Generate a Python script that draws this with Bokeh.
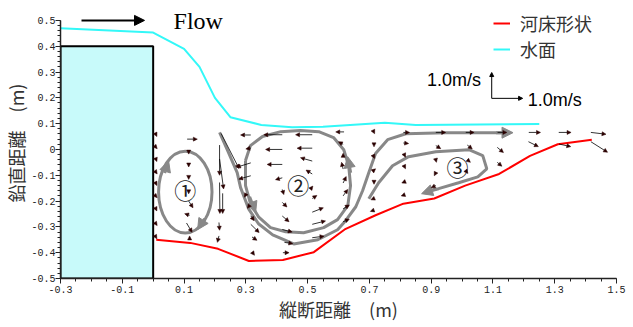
from bokeh.plotting import figure
from bokeh.models import (Range1d, FixedTicker, Arrow, NormalHead, ColumnDataSource, Label, Title)
from bokeh.core.properties import value
from bokeh.embed import file_html
from bokeh.resources import INLINE

# ---------------- data ----------------
# weir block (m)
weir_x = [-0.3, 0.0]
weir_y = [-0.5, 0.4]

# water surface (m)
ws_x = [-0.3, 0.0, 0.1, 0.15, 0.2, 0.25, 0.35, 0.45, 0.55, 0.75, 0.85, 1.25]
ws_y = [0.47, 0.453, 0.39, 0.32, 0.20, 0.125, 0.095, 0.086, 0.088, 0.103, 0.095, 0.099]

# river bed shape (m)
bed_x = [0.01, 0.12, 0.21, 0.31, 0.42, 0.52, 0.62, 0.72, 0.81, 0.91, 1.01, 1.12, 1.22, 1.31, 1.42]
bed_y = [-0.35, -0.362, -0.385, -0.432, -0.428, -0.398, -0.31, -0.255, -0.21, -0.19, -0.14, -0.095, -0.025, 0.02, 0.038]

# velocity vectors: position (m) and components (m/s)
vec_x = [0.01] * 9 + [0.11, 0.115, 0.115, 0.115, 0.115, 0.115, 0.118, 0.108, 0.118] + \
        [0.215, 0.215, 0.22, 0.215, 0.225, 0.213, 0.213] + \
        [0.316, 0.316, 0.316, 0.316, 0.30, 0.31, 0.316, 0.316, 0.32, 0.325] + \
        [0.418, 0.418, 0.418, 0.418, 0.418, 0.418, 0.418, 0.418, 0.425, 0.42] + \
        [0.515] * 9 + [0.618, 0.615, 0.615, 0.615, 0.615, 0.615, 0.615, 0.615] + \
        [0.715] * 7 + [0.81, 0.81, 0.815, 0.815, 0.815, 0.815] + [0.915] * 5 + \
        [1.012, 1.017, 1.017, 1.017] + [1.115, 1.114, 1.114] + [1.216, 1.215] + \
        [1.313, 1.314] + [1.417, 1.417]
vec_y = [0.055, 0.007, -0.041, -0.09, -0.135, -0.183, -0.233, -0.29, -0.342] + \
        [0.04, -0.012, -0.062, -0.11, -0.16, -0.2, -0.255, -0.285, -0.345] + \
        [0.017, -0.037, 0.062, -0.128, -0.17, -0.283, -0.335] + \
        [0.056, 0.005, -0.052, -0.102, -0.175, -0.22, -0.257, -0.29, -0.339, -0.405] + \
        [0.057, 0.0, -0.058, -0.11, -0.155, -0.205, -0.258, -0.31, -0.36, -0.4] + \
        [0.057, 0.005, -0.045, -0.095, -0.145, -0.19, -0.243, -0.29, -0.342] + \
        [0.068, 0.02, -0.03, -0.076, -0.13, -0.18, -0.23, -0.28] + \
        [0.066, 0.015, -0.03, -0.08, -0.13, -0.19, -0.235] + \
        [0.066, 0.025, -0.025, -0.07, -0.125, -0.175] + \
        [0.066, 0.015, -0.04, -0.09, -0.14] + \
        [0.066, 0.017, -0.04, -0.09] + [0.066, 0.008, -0.05] + [0.066, 0.03] + \
        [0.066, 0.021] + [0.066, 0.03]
vec_u = [0.02, 0.03, 0.02, 0.03, 0.02, 0.03, 0.02, 0.03, 0.02] + \
        [0.33, 0.0, 0.0, 0.0, 0.0, 0.14, -0.16, 0.18, 0.0] + \
        [0.0, 0.13, 0.58, 0.01, 0.0, 0.02, -0.05] + \
        [-0.33, -0.16, -0.46, -0.39, -0.05, -0.05, 0.11, 0.27, 0.16, 0.03] + \
        [-0.6, -0.54, -0.49, -0.22, 0.05, 0.15, 0.22, 0.32, 0.27, 0.2] + \
        [-0.54, -0.49, -0.38, -0.2, 0.02, 0.15, 0.36, 0.43, 0.38] + \
        [-0.27, -0.15, 0.0, -0.05, 0.1, 0.15, 0.2, 0.2] + \
        [0.02, 0.0, 0.02, 0.05, 0.0, -0.1, -0.12] + \
        [0.2, 0.17, 0.02, 0.02, -0.1, -0.12] + \
        [0.32, 0.16, 0.02, -0.05, -0.15] + \
        [0.27, 0.16, 0.1, 0.02] + [0.3, 0.2, 0.15] + [0.38, 0.32] + \
        [0.4, 0.38] + [0.49, 0.54]
vec_v = [-0.05, -0.04, -0.06, -0.05, -0.05, -0.04, -0.05, -0.05, -0.04] + \
        [0.0, -0.06, -0.06, -0.06, -0.12, -0.26, 0.06, -0.36, 0.1] + \
        [-1.17, -1.16, -1.36, -1.2, -0.78, -0.3, -0.25] + \
        [0.0, -0.03, -0.17, -0.13, -0.1, -0.08, -0.19, -0.32, -0.13, -0.05] + \
        [0.0, 0.0, 0.0, -0.07, -0.2, -0.18, -0.22, -0.1, -0.05, 0.0] + \
        [0.0, 0.0, 0.13, 0.15, 0.03, 0.12, 0.17, 0.13, 0.06] + \
        [0.0, 0.1, 0.15, 0.26, 0.25, 0.25, 0.15, 0.1] + \
        [-0.05, -0.05, -0.05, 0.05, -0.05, -0.05, -0.05] + \
        [0.0, -0.02, -0.05, -0.05, -0.05, -0.05] + \
        [0.0, -0.12, -0.1, -0.12, -0.08] + \
        [0.0, -0.15, -0.1, -0.03] + [0.0, -0.2, -0.15] + [0.0, -0.19] + \
        [0.0, -0.1] + [-0.07, -0.41]
VEC_SCALE = 0.1  # 1.0 m/s drawn as 0.1 m

# schematic flow lines (m)
loop2_x = [0.299, 0.315, 0.354, 0.413, 0.477, 0.536, 0.584, 0.617, 0.633, 0.639, 0.630,
           0.597, 0.552, 0.487, 0.429, 0.380, 0.341, 0.315, 0.299, 0.299]
loop2_y = [-0.043, 0.015, 0.050, 0.069, 0.073, 0.069, 0.046, -0.001, -0.063, -0.140, -0.218,
           -0.272, -0.303, -0.323, -0.319, -0.303, -0.261, -0.210, -0.140, -0.043]
s3_x = [0.215, 0.244, 0.272, 0.283, 0.309, 0.341, 0.387, 0.455, 0.533, 0.597, 0.623, 0.656,
        0.678, 0.698, 0.720, 0.759, 0.818, 0.947, 1.13]
s3_y = [0.066, -0.012, -0.090, -0.148, -0.230, -0.288, -0.331, -0.366, -0.350, -0.311, -0.276,
        -0.222, -0.160, -0.090, -0.016, 0.038, 0.061, 0.065, 0.065]
s4_x = [0.698, 0.730, 0.775, 0.827, 0.915, 1.022, 1.067, 1.080, 1.051, 0.989, 0.924, 0.905]
s4_y = [-0.191, -0.129, -0.063, -0.028, -0.009, -0.001, -0.024, -0.075, -0.106, -0.129, -0.152, -0.158]
# vortex 1 ellipse: centre, width, height (m)
v1_x, v1_y, v1_w, v1_h = [0.104], [-0.165], [0.173], [0.317]
# arrow heads on flow lines: start -> tip (m)
head_x0 = [0.037, 0.1665, 0.3122, 0.6394, 1.11, 0.918]
head_y0 = [-0.091, -0.2685, -0.1835, -0.090, 0.065, -0.152]
head_x1 = [0.050, 0.1438, 0.3317, 0.6297, 1.165, 0.869]
head_y1 = [-0.044, -0.311, -0.245, -0.028, 0.065, -0.1715]

vortex_x = [0.104, 0.470, 0.985]
vortex_y = [-0.155, -0.135, -0.063]
vortex_t = ["①", "②", "③"]

# scale bar (m)
sb_x = [1.096, 1.196]
sb_y = [0.198, 0.298]
# flow arrow (m)
flow_x = [-0.232, -0.028]
flow_y = 0.5

x_ticks = [-0.3, -0.1, 0.1, 0.3, 0.5, 0.7, 0.9, 1.1, 1.3, 1.5]
x_labels = ["-0.3", "-0.1", "0.1", "0.3", "0.5", "0.7", "0.9", "1.1", "1.3", "1.5"]
y_ticks = [-0.5, -0.4, -0.3, -0.2, -0.1, 0.0, 0.1, 0.2, 0.3, 0.4, 0.5]
y_labels = ["-0.5", "-0.4", "-0.3", "-0.2", "-0.1", "0", "0.1", "0.2", "0.3", "0.4", "0.5"]
x_minor = [round(-0.3 + 0.05 * i, 2) for i in range(37)]
y_minor = [round(-0.5 + 0.02 * i, 2) for i in range(51)]

# ---------------- figure ----------------
p = figure(width=633, height=327, x_range=Range1d(-0.3, 1.5), y_range=Range1d(-0.5, 0.55),
           output_backend="svg", toolbar_location=None,
           min_border_left=60, min_border_right=17, min_border_top=7, min_border_bottom=49)
p.outline_line_color = None
p.grid.visible = False
p.background_fill_color = "white"

GRAY = "#888888"

# weir block
p.quad(left=[weir_x[0]], right=[weir_x[1]], bottom=[weir_y[0]], top=[weir_y[1]],
       fill_color="#c8fafa", line_color="black", line_width=2)

# lines
p.line(bed_x, bed_y, line_color="#ff0000", line_width=2, legend_label="河床形状")
p.line(ws_x, ws_y, line_color="#33f8f8", line_width=2, legend_label="水面")

# flow schematic
p.ellipse(x=v1_x, y=v1_y, width=v1_w, height=v1_h, fill_color=None, line_color=GRAY, line_width=3)
p.line(loop2_x, loop2_y, line_color=GRAY, line_width=3)
p.line(s3_x, s3_y, line_color=GRAY, line_width=3)
p.line(s4_x, s4_y, line_color=GRAY, line_width=3)
hsrc = ColumnDataSource(dict(x0=head_x0, y0=head_y0, x1=head_x1, y1=head_y1))
p.add_layout(Arrow(source=hsrc, x_start="x0", y_start="y0", x_end="x1", y_end="y1",
                   line_color=GRAY, line_width=3,
                   end=NormalHead(size=11, fill_color=GRAY, line_color=GRAY, line_width=1)))

# vectors
vx1 = [x + u * VEC_SCALE for x, u in zip(vec_x, vec_u)]
vy1 = [y + v * VEC_SCALE for y, v in zip(vec_y, vec_v)]
vsrc = ColumnDataSource(dict(x0=vec_x, y0=vec_y, x1=vx1, y1=vy1))
p.add_layout(Arrow(source=vsrc, x_start="x0", y_start="y0", x_end="x1", y_end="y1",
                   line_color="black", line_width=0.8,
                   end=NormalHead(size=4, fill_color="#2a0000", line_color="#2a0000", line_width=0.5)))

# vortex numbers
p.text(x=vortex_x, y=vortex_y, text=vortex_t, text_font=value("Noto Sans CJK JP"),
       text_font_size=value("22px"), text_align="center", text_baseline="middle", text_color="#222222")

# scale bar
p.add_layout(Arrow(x_start=sb_x[0], y_start=sb_y[0], x_end=sb_x[0], y_end=sb_y[1],
                   line_color="black", line_width=1,
                   end=NormalHead(size=4, fill_color="black", line_color="black")))
p.add_layout(Arrow(x_start=sb_x[0], y_start=sb_y[0], x_end=sb_x[1], y_end=sb_y[0],
                   line_color="black", line_width=1,
                   end=NormalHead(size=4, fill_color="black", line_color="black")))
p.add_layout(Label(x=sb_x[0] - 0.035, y=sb_y[1] - 0.03, text="1.0m/s", text_align="right",
                   text_baseline="middle", text_font="Liberation Sans", text_font_size="18px",
                   text_color="black"))
p.add_layout(Label(x=sb_x[1] + 0.017, y=sb_y[0] - 0.005, text="1.0m/s", text_align="left",
                   text_baseline="middle", text_font="Liberation Sans", text_font_size="18px",
                   text_color="black"))

# Flow arrow
p.add_layout(Arrow(x_start=flow_x[0], y_start=flow_y, x_end=flow_x[1], y_end=flow_y,
                   line_color="black", line_width=2,
                   end=NormalHead(size=10, fill_color="black", line_color="black")))
p.add_layout(Label(x=0.066, y=0.497, text="Flow", text_align="left", text_baseline="middle",
                   text_font="Liberation Serif", text_font_size="24px", text_color="black"))

# axes
for ax, ticks, minor, labels in ((p.xaxis[0], x_ticks, x_minor, x_labels),
                                 (p.yaxis[0], y_ticks, y_minor, y_labels)):
    ax.ticker = FixedTicker(ticks=ticks, minor_ticks=minor)
    ax.major_label_overrides = {t: l for t, l in zip(ticks, labels)}
    ax.major_tick_in = 0
    ax.major_tick_out = 5
    ax.minor_tick_in = 0
    ax.minor_tick_out = 3
    ax.axis_line_color = "#222222"
    ax.axis_line_width = 1.5
    ax.major_tick_line_color = "#222222"
    ax.minor_tick_line_color = "#222222"
    ax.major_label_text_font = "Liberation Mono"
    ax.major_label_text_font_size = "10px"
    ax.major_label_text_color = "#222222"
    ax.major_label_standoff = 2
    ax.axis_label_text_font = "Noto Sans CJK JP"
    ax.axis_label_text_font_size = "18px"
    ax.axis_label_text_font_style = "normal"
    ax.axis_label_text_color = "#333333"
    ax.axis_label_standoff = 0

p.yaxis.major_label_standoff = 0
p.xaxis.bounds = (-0.3, 1.5)
p.yaxis.bounds = (-0.5, 0.5)
p.xaxis.axis_label = "縦断距離　(m)"

# vertical axis title placed as a side panel to keep the frame at the reference position
p.add_layout(Title(text="鉛直距離　(m)", align="center", text_font="Noto Sans CJK JP",
                   text_font_size="18px", text_font_style="normal", text_color="#333333",
                   standoff=0, offset=8), "left")

# legend
lg = p.legend[0]
lg.location = (433, 216)
lg.border_line_color = None
lg.background_fill_alpha = 0
lg.padding = 0
lg.margin = 0
lg.spacing = 0
lg.glyph_width = 17
lg.glyph_height = 26
lg.label_height = 26
lg.label_standoff = 10
lg.label_text_font = "Noto Sans CJK JP"
lg.label_text_font_size = "18px"
lg.label_text_color = "#333333"

open("out.html", "w").write(file_html(p, INLINE))
